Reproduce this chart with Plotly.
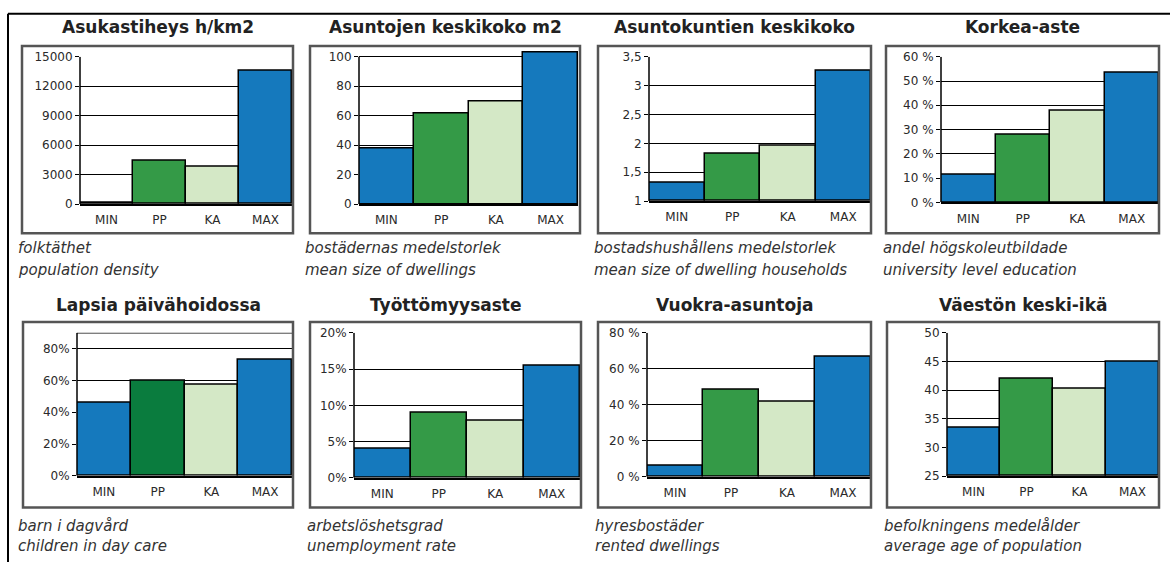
import plotly.graph_objects as go

W, H = 1170, 569

categories = ["MIN", "PP", "KA", "MAX"]

titles = ["Asukastiheys h/km2", "Asuntojen keskikoko m2", "Asuntokuntien keskikoko", "Korkea-aste",
          "Lapsia päivähoidossa", "Työttömyysaste", "Vuokra-asuntoja", "Väestön keski-ikä"]
captions_sv = ["folktäthet", "bostädernas medelstorlek", "bostadshushållens medelstorlek",
               "andel högskoleutbildade", "barn i dagvård", "arbetslöshetsgrad",
               "hyresbostäder", "befolkningens medelålder"]
captions_en = ["population density", "mean size of dwellings", "mean size of dwelling households",
               "university level education", "children in day care", "unemployment rate",
               "rented dwellings", "average age of population"]

density = [150, 4400, 3780, 13540]
dwelling_size = [37.5, 61.5, 69.7, 103]
household_size = [1.32, 1.82, 1.96, 3.25]
higher_edu = [11.2, 27.8, 37.6, 53.5]
day_care = [46, 60, 57.6, 73]
unemployment = [3.95, 9.0, 7.9, 15.4]
rented = [6, 48.6, 41.6, 66.5]
mean_age = [33.5, 41.9, 40.3, 44.9]

ticks_1 = [0, 3000, 6000, 9000, 12000, 15000]
ticklabels_1 = ["0", "3000", "6000", "9000", "12000", "15000"]
ticks_2 = [0, 20, 40, 60, 80, 100]
ticklabels_2 = ["0", "20", "40", "60", "80", "100"]
ticks_3 = [1, 1.5, 2, 2.5, 3, 3.5]
ticklabels_3 = ["1", "1,5", "2", "2,5", "3", "3,5"]
ticks_4 = [0, 10, 20, 30, 40, 50, 60]
ticklabels_4 = ["0 %", "10 %", "20 %", "30 %", "40 %", "50 %", "60 %"]
ticks_5 = [0, 20, 40, 60, 80]
ticklabels_5 = ["0%", "20%", "40%", "60%", "80%"]
ticks_6 = [0, 5, 10, 15, 20]
ticklabels_6 = ["0%", "5%", "10%", "15%", "20%"]
ticks_7 = [0, 20, 40, 60, 80]
ticklabels_7 = ["0 %", "20 %", "40 %", "60 %", "80 %"]
ticks_8 = [25, 30, 35, 40, 45, 50]
ticklabels_8 = ["25", "30", "35", "40", "45", "50"]

BLUE = "#1579bd"
GREEN = "#349a47"
LIGHT = "#d4e8c6"
DARK = "#0a7c3e"
colors_std = [BLUE, GREEN, LIGHT, BLUE]
colors_p5 = [BLUE, DARK, LIGHT, BLUE]

panels = [
    dict(vals=density, tv=ticks_1, tt=ticklabels_1, rng=[0, 15000], axtop=15000,
         plot=(80, 292, 202, 51), frame=(22, 293, 40, 232), cols=colors_std),
    dict(vals=dwelling_size, tv=ticks_2, tt=ticklabels_2, rng=[0, 105], axtop=100,
         plot=(359, 578, 202, 43.45), frame=(310, 580, 40, 232), cols=colors_std),
    dict(vals=household_size, tv=ticks_3, tt=ticklabels_3, rng=[1, 3.5], axtop=3.5,
         plot=(649, 871, 199, 51), frame=(598, 871, 40, 232), cols=colors_std),
    dict(vals=higher_edu, tv=ticks_4, tt=ticklabels_4, rng=[0, 60], axtop=60,
         plot=(941, 1159, 200.3, 51), frame=(886, 1159, 40, 232), cols=colors_std),
    dict(vals=day_care, tv=ticks_5, tt=ticklabels_5, rng=[0, 90], axtop=90,
         plot=(77, 292, 480.7, 334), frame=(23, 293, 323, 513), cols=colors_p5),
    dict(vals=unemployment, tv=ticks_6, tt=ticklabels_6, rng=[0, 20], axtop=20,
         plot=(354, 580, 482.7, 334), frame=(310, 581, 323, 513), cols=colors_std),
    dict(vals=rented, tv=ticks_7, tt=ticklabels_7, rng=[0, 80], axtop=80,
         plot=(647, 871, 481.7, 334), frame=(598, 871, 323, 513), cols=colors_std),
    dict(vals=mean_age, tv=ticks_8, tt=ticklabels_8, rng=[25, 50], axtop=50,
         plot=(947, 1159, 481, 334), frame=(887, 1159, 323, 513), cols=colors_std),
]

caption_x = [16, 303, 592, 881, 16, 305, 593, 882]
title_y = [21, 21, 21, 21, 306, 306, 306, 306]
cap_y1 = [247, 247, 247, 247, 532, 532, 532, 532]
cap_y2 = [270, 270, 270, 270, 553, 553, 553, 553]


def px(x):
    return x / W


def py(y):
    return 1 - y / H


fig = go.Figure()
layout = dict(
    width=W, height=H, margin=dict(l=0, r=0, t=0, b=0),
    paper_bgcolor="white", plot_bgcolor="white",
    showlegend=False, bargap=0,
    font=dict(family="DejaVu Sans", color="#333333"),
)
shapes = []
annotations = []

for i, p in enumerate(panels):
    n = i + 1
    xa = "x" if n == 1 else f"x{n}"
    ya = "y" if n == 1 else f"y{n}"
    xkey = "xaxis" if n == 1 else f"xaxis{n}"
    ykey = "yaxis" if n == 1 else f"yaxis{n}"
    base = p["rng"][0]
    fig.add_trace(go.Bar(
        x=categories, y=[v - base for v in p["vals"]], base=base,
        xaxis=xa, yaxis=ya,
        marker=dict(color=p["cols"], line=dict(color="black", width=1.5)),
        hoverinfo="skip",
    ))
    x0, x1, yb, yt = p["plot"]
    layout[xkey] = dict(
        domain=[px(x0), px(x1)], anchor=ya, type="category",
        range=[-0.5, 3.5], showline=True, linecolor="black", linewidth=1.5,
        showgrid=False, ticks="", ticklabelstandoff=4,
        tickfont=dict(family="DejaVu Sans", size=12, color="#2a2a2a"),
        fixedrange=True,
    )
    layout[ykey] = dict(
        domain=[py(yb), py(yt)], anchor=xa, range=p["rng"],
        tickvals=p["tv"], ticktext=p["tt"],
        showgrid=True, gridcolor="black", gridwidth=1.3,
        zeroline=False, showline=False,
        ticks="outside", ticklen=4, tickcolor="black", tickwidth=1.3,
        tickfont=dict(family="DejaVu Sans", size=12, color="#2a2a2a"),
        fixedrange=True,
    )
    shapes.append(dict(type="line", xref=f"{xa} domain", yref=ya,
                       x0=0, x1=0, y0=p["rng"][0], y1=p["axtop"],
                       line=dict(color="black", width=1.5)))
    if n == 5:
        shapes.append(dict(type="line", xref=f"{xa} domain", yref=ya,
                           x0=0, x1=1, y0=p["axtop"], y1=p["axtop"],
                           line=dict(color="black", width=1.3)))
    fx0, fx1, fy0, fy1 = p["frame"]
    shapes.append(dict(type="rect", xref="paper", yref="paper",
                       x0=px(fx0), x1=px(fx1), y0=py(fy1), y1=py(fy0),
                       line=dict(color="#555555", width=2.5), fillcolor="rgba(0,0,0,0)"))
    annotations.append(dict(text=f"<b>{titles[i]}</b>", xref="paper", yref="paper",
                            x=px((fx0 + fx1) / 2), y=py(title_y[i]),
                            xanchor="center", yanchor="middle", showarrow=False,
                            font=dict(family="DejaVu Sans", size=17, color="#222222")))
    annotations.append(dict(text=f"<i>{captions_sv[i]}</i>", xref="paper", yref="paper",
                            x=px(caption_x[i]), y=py(cap_y1[i]),
                            xanchor="left", yanchor="middle", showarrow=False,
                            font=dict(family="DejaVu Sans", size=15, color="#333333")))
    annotations.append(dict(text=f"<i>{captions_en[i]}</i>", xref="paper", yref="paper",
                            x=px(caption_x[i]), y=py(cap_y2[i]),
                            xanchor="left", yanchor="middle", showarrow=False,
                            font=dict(family="DejaVu Sans", size=15, color="#333333")))

shapes.append(dict(type="line", xref="paper", yref="paper",
                   x0=px(8), x1=1, y0=py(7), y1=py(7), line=dict(color="black", width=2)))
shapes.append(dict(type="line", xref="paper", yref="paper",
                   x0=px(8), x1=px(8), y0=py(7), y1=0, line=dict(color="black", width=2)))

layout["shapes"] = shapes
layout["annotations"] = annotations
fig.update_layout(**layout)

post = ("var gd=document.getElementById('{plot_id}');"
        "document.documentElement.style.margin='0';"
        "document.body.style.margin='0';document.body.style.padding='0';"
        "document.body.style.overflow='hidden';"
        "gd.style.position='absolute';gd.style.left='0px';gd.style.top='0px';")
fig.write_html("out.html", config={"displayModeBar": False}, post_script=post)
